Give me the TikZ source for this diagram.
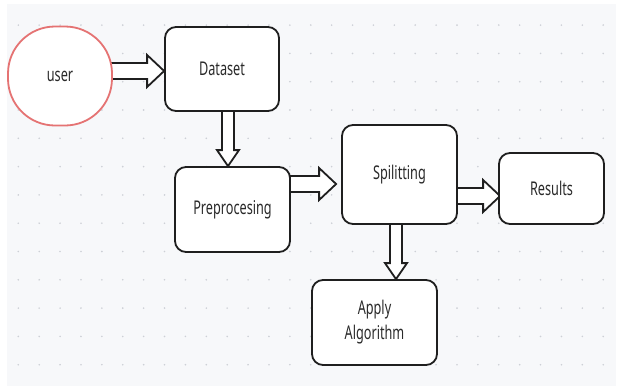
\documentclass[tikz,border=0pt]{standalone}
\usepackage{fontspec}
\setmainfont{Noto Sans}[FakeStretch=0.67]
\usetikzlibrary{calc}
\definecolor{bgc}{HTML}{F7F8FA}
\definecolor{dotc}{HTML}{CDD0D6}
\definecolor{userred}{HTML}{E57373}
\definecolor{ink}{HTML}{1F1F1F}
\definecolor{txt}{HTML}{2A2A2A}
\pgfdeclarelayer{bg}
\pgfdeclarelayer{arr}
\pgfsetlayers{bg,arr,main}
\tikzset{
  box/.style={draw=ink, line width=1.8bp, fill=white, rounded corners=11bp,
    inner sep=0pt, align=center, text=txt, font=\fontsize{19}{25}\selectfont},
  userbox/.style={box, draw=userred, rounded corners=47bp},
  blk/.style={draw=ink, line width=1.8bp, fill=white, line join=miter}
}
% horizontal block arrow: source, target, y, gap before target
\newcommand\harr[4]{%
  \coordinate (hs) at ($(#1.east |- 0,#3)+(-2,0)$);
  \coordinate (he) at ($(#2.west |- 0,#3)+(-#4,0)$);
  \draw[blk] ($(hs)+(0,-8)$) -- ($(he)+(-17,-8)$) -- ($(he)+(-17,-16)$) -- (he)
    -- ($(he)+(-17,16)$) -- ($(he)+(-17,8)$) -- ($(hs)+(0,8)$) -- cycle;}
% vertical block arrow: source, target, x
\newcommand\varr[3]{%
  \coordinate (vs) at ($(#1.south -| #3,0)+(0,-2)$);
  \coordinate (ve) at (#2.north -| #3,0);
  \draw[blk] ($(vs)+(-6,0)$) -- ($(ve)+(-6,-16)$) -- ($(ve)+(-11,-16)$) -- (ve)
    -- ($(ve)+(11,-16)$) -- ($(ve)+(6,-16)$) -- ($(vs)+(6,0)$) -- cycle;}
\begin{document}
\begin{tikzpicture}[x=1bp,y=-1bp]
\useasboundingbox (0,0) rectangle (621,387);
\node[userbox, minimum width=104bp, minimum height=99bp] (user) at (60,76) {user};
\node[box, minimum width=114bp, minimum height=84bp] (dataset) at (222,69) {Dataset};
\node[box, minimum width=115bp, minimum height=85bp] (prep) at (232.5,209.5) {Preprocesing};
\node[box, minimum width=115bp, minimum height=99bp] (split) at (399.5,174.5) {Spilitting};
\node[box, minimum width=105bp, minimum height=71bp] (results) at (551.5,188.5) {Results};
\node[box, minimum width=125bp, minimum height=85bp] (apply) at (374.5,322.5) {Apply\\Algorithm};
\begin{pgfonlayer}{bg}
  \fill[white] (0,0) rectangle (621,387);
  \fill[bgc] (7,4) rectangle (616,386);
  \foreach \i in {0,...,28}{\foreach \j in {0,...,12}{
    \fill[dotc] ({18.3+20.89*\i},{25.1+28.3*\j}) circle[radius=0.9bp];}}
\end{pgfonlayer}
\begin{pgfonlayer}{arr}
  \harr{user}{dataset}{71}{0}
  \varr{dataset}{prep}{228}
  \harr{prep}{split}{184}{5}
  \harr{split}{results}{196}{-2}
  \varr{split}{apply}{396}
\end{pgfonlayer}
\end{tikzpicture}
\end{document}
